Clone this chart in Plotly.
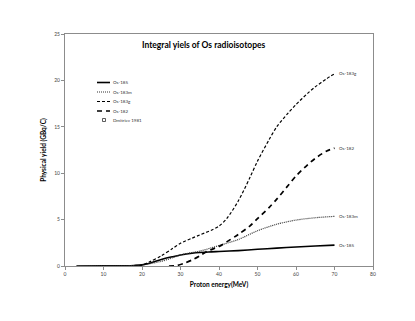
import plotly.graph_objects as go

# ---- data ----
x_185 = [3, 10, 15, 18, 20, 22, 25, 28, 30, 33, 35, 38, 40, 45, 50, 55, 60, 65, 70]
y_185 = [0, 0.01, 0.03, 0.06, 0.12, 0.3, 0.7, 1.0, 1.18, 1.38, 1.46, 1.52, 1.56, 1.66, 1.8, 1.93, 2.04, 2.15, 2.25]

x_183m = [3, 10, 15, 18, 20, 22, 25, 28, 30, 33, 35, 38, 40, 45, 50, 55, 60, 65, 70]
y_183m = [0, 0.01, 0.02, 0.05, 0.1, 0.25, 0.5, 0.9, 1.2, 1.45, 1.6, 1.95, 2.2, 2.85, 3.8, 4.5, 4.95, 5.2, 5.35]

x_183g = [18, 20, 22, 25, 28, 30, 33, 35, 38, 40, 42, 45, 48, 50, 53, 55, 58, 60, 63, 65, 68, 70]
y_183g = [0, 0.1, 0.45, 1.1, 1.9, 2.45, 3.0, 3.35, 3.85, 4.3, 5.1, 7.0, 9.5, 11.3, 13.6, 15.0, 16.5, 17.4, 18.6, 19.3, 20.2, 20.7]

x_182 = [27, 29, 31, 33, 35, 37, 40, 42, 45, 48, 50, 53, 55, 58, 60, 63, 65, 68, 70]
y_182 = [0, 0.05, 0.3, 0.65, 1.1, 1.6, 2.1, 2.6, 3.4, 4.3, 5.1, 6.3, 7.2, 8.7, 9.7, 10.9, 11.6, 12.4, 12.7]

series_names = ["Os-185", "Os-183m", "Os-183g", "Os-182"]
legend_names = ["Os-185", "Os-183m", "Os-183g", "Os-182", "Dmitriev 1981"]
x_ticks = [0, 10, 20, 30, 40, 50, 60, 70, 80]
y_ticks = [0, 5, 10, 15, 20, 25]

FONT = "Lato"
W, H = 415, 321
OFF = 8  # page body margin
# target screen plot box: left 65, right 373, top 34, bottom 266
L, T = 65 - OFF, 34 - OFF
R = W - (373 - OFF)
B = H - (266 - OFF)
PW, PH = W - L - R, H - T - B

def px2paper(px, py):
    return (px - OFF - L) / PW, (H - B - (py - OFF)) / PH

styles = [
    dict(color="black", width=1.6, dash="solid"),
    dict(color="#333333", width=1.2, dash="1px,1px"),
    dict(color="black", width=1.2, dash="3px,2px"),
    dict(color="black", width=1.7, dash="5px,4px"),
]
data = [(x_185, y_185), (x_183m, y_183m), (x_183g, y_183g), (x_182, y_182)]

fig = go.Figure()
for (xs, ys), name, st in zip(data, series_names, styles):
    fig.add_trace(go.Scatter(x=xs, y=ys, mode="lines", name=name,
                             line=dict(shape="spline", smoothing=0.8, **st),
                             showlegend=False, hoverinfo="skip"))
    fig.add_annotation(x=xs[-1], y=ys[-1], text=name, showarrow=False,
                       xanchor="left", yanchor="middle", xshift=2,
                       font=dict(family=FONT, size=4.5, color="#333333"))

# manual legend
shapes = []
row_y = [82.5, 92, 101.5, 111, 120]
for i, lname in enumerate(legend_names):
    py = row_y[i]
    if i < 4:
        x0, y0 = px2paper(97, py)
        x1, _ = px2paper(110, py)
        shapes.append(dict(type="line", xref="paper", yref="paper", x0=x0, x1=x1, y0=y0, y1=y0,
                           line=dict(color=styles[i]["color"], width=styles[i]["width"], dash=styles[i]["dash"])))
    else:
        xa, ya = px2paper(102.5, py - 1.5)
        xb, yb = px2paper(105.5, py + 1.5)
        shapes.append(dict(type="rect", xref="paper", yref="paper", x0=xa, x1=xb, y0=yb, y1=ya,
                           line=dict(color="#333333", width=0.8)))
    tx, ty = px2paper(111, py)
    fig.add_annotation(x=tx, y=ty, xref="paper", yref="paper", text=lname, showarrow=False,
                       xanchor="left", yanchor="middle",
                       font=dict(family=FONT, size=4.5, color="#333333"))

# title
tx, ty = px2paper(204, 45)
fig.add_annotation(x=tx, y=ty, xref="paper", yref="paper", text="<b>Integral yiels of Os radioisotopes</b>",
                   showarrow=False, xanchor="center", yanchor="middle",
                   font=dict(family=FONT, size=8.5, color="black"))

axis_common = dict(showline=True, linecolor="#8c8c8c", linewidth=1, mirror=True,
                   showgrid=False, zeroline=False, ticks="outside", ticklen=3,
                   tickcolor="#8c8c8c", tickwidth=1,
                   tickfont=dict(family=FONT, size=5, color="#444444"))

fig.update_layout(
    width=W, height=H,
    margin=dict(l=L, r=R, t=T, b=B),
    paper_bgcolor="white", plot_bgcolor="white",
    shapes=shapes,
    xaxis=dict(range=[0, 80], tickvals=x_ticks, ticktext=[str(v) for v in x_ticks],
               title=dict(text="<b>Proton energy(MeV)</b>", font=dict(family=FONT, size=6.5, color="black"), standoff=6),
               **axis_common),
    yaxis=dict(range=[0, 25], tickvals=y_ticks, ticktext=[str(v) for v in y_ticks],
               title=dict(text="<b>Physical yield (GBq/C)</b>", font=dict(family=FONT, size=6.5, color="black"), standoff=6),
               **axis_common),
)

fig.write_html("out.html")
